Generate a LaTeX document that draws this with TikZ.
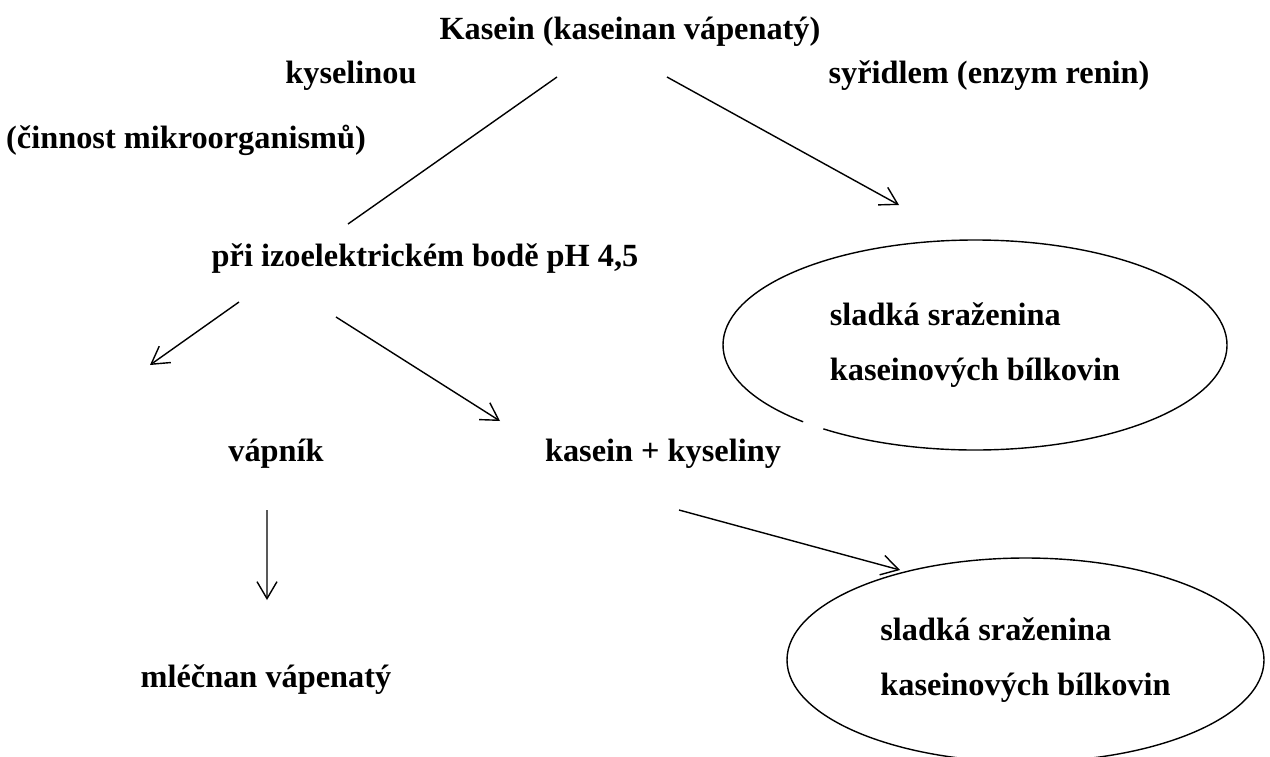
\documentclass[tikz,border=0pt]{standalone}
\usepackage{fontspec}
\setmainfont{Liberation Serif}
\usetikzlibrary{shapes.geometric,arrows.meta}

\begin{document}
\begin{tikzpicture}
        \tikzset{
            stage/.style={
                    font=\fontsize{9.2}{15.6}\selectfont\bfseries,
                },
            product/.style={
                    ellipse,
                    draw=black,
                    line width=0.4pt,
                    align=left,
                    font=\fontsize{9.2}{15.6}\selectfont\bfseries,
                },
            connection/.style={-{Straight Barb[length=1.7mm, width=2mm]}, line width=0.4pt},
        }
        \useasboundingbox (0, 0) rectangle (12.7, -7.56);
        % \draw (0, -7) grid (12, 0);
        \node[stage] (kasein) at (6.30, -0.32) {Kasein (kaseinan vápenatý)};
        \node[stage] (kyselinou) at (3.51, -0.76) {kyselinou};
        \node[stage] (syridlem) at (9.89, -0.76) {syřidlem (enzym renin)};
        \node[stage] (cinnost) at (1.86, -1.40) {(činnost mikroorganismů)};
        \node[stage] (izobod) at (4.25, -2.59) {při izoelektrickém bodě pH 4,5};
        \node[product, draw=none, minimum width=5.04cm, minimum height=2.10cm] (sladka1) at (9.75, -3.45) {sladká sraženina\\kaseinových bílkovin};
        \draw[line width=0.4pt] ([shift={(233:2.52 and 1.05)}]sladka1.center) arc[start angle=233, end angle=587, x radius=2.52, y radius=1.05];
        \node[stage] (vapnik) at (2.76, -4.54) {vápník};
        \node[stage] (kyseliny) at (6.63, -4.54) {kasein + kyseliny};
        \node[stage] (mlecnan) at (2.66, -6.80) {mléčnan vápenatý};
        \node[product, minimum width=4.77cm, minimum height=2.04cm] (sladka2) at (10.255, -6.60) {sladká sraženina\\kaseinových bílkovin};
        \draw[line width=0.4pt] ([shift={(-0.73,-0.45)}]kasein.center) -- ([shift={(-0.77,0.35)}]izobod.center);
        \draw[connection] ([shift={(0.37,-0.45)}]kasein.center) -- ([shift={(-0.76,1.40)}]sladka1.center);
        \draw[connection] ([shift={(-1.86,-0.43)}]izobod.center) -- ([shift={(-1.26,0.89)}]vapnik.center);
        \draw[connection] ([shift={(-0.89,-0.58)}]izobod.center) -- ([shift={(-1.63,0.33)}]kyseliny.center);
        \draw[connection] ([shift={(0.16,-0.56)}]kyseliny.center) -- ([shift={(-1.255,0.90)}]sladka2.center);
        \draw[connection] ([shift={(-0.09,-0.56)}]vapnik.center) -- ([shift={(0.01,0.80)}]mlecnan.center);
    \end{tikzpicture}
\end{document}
